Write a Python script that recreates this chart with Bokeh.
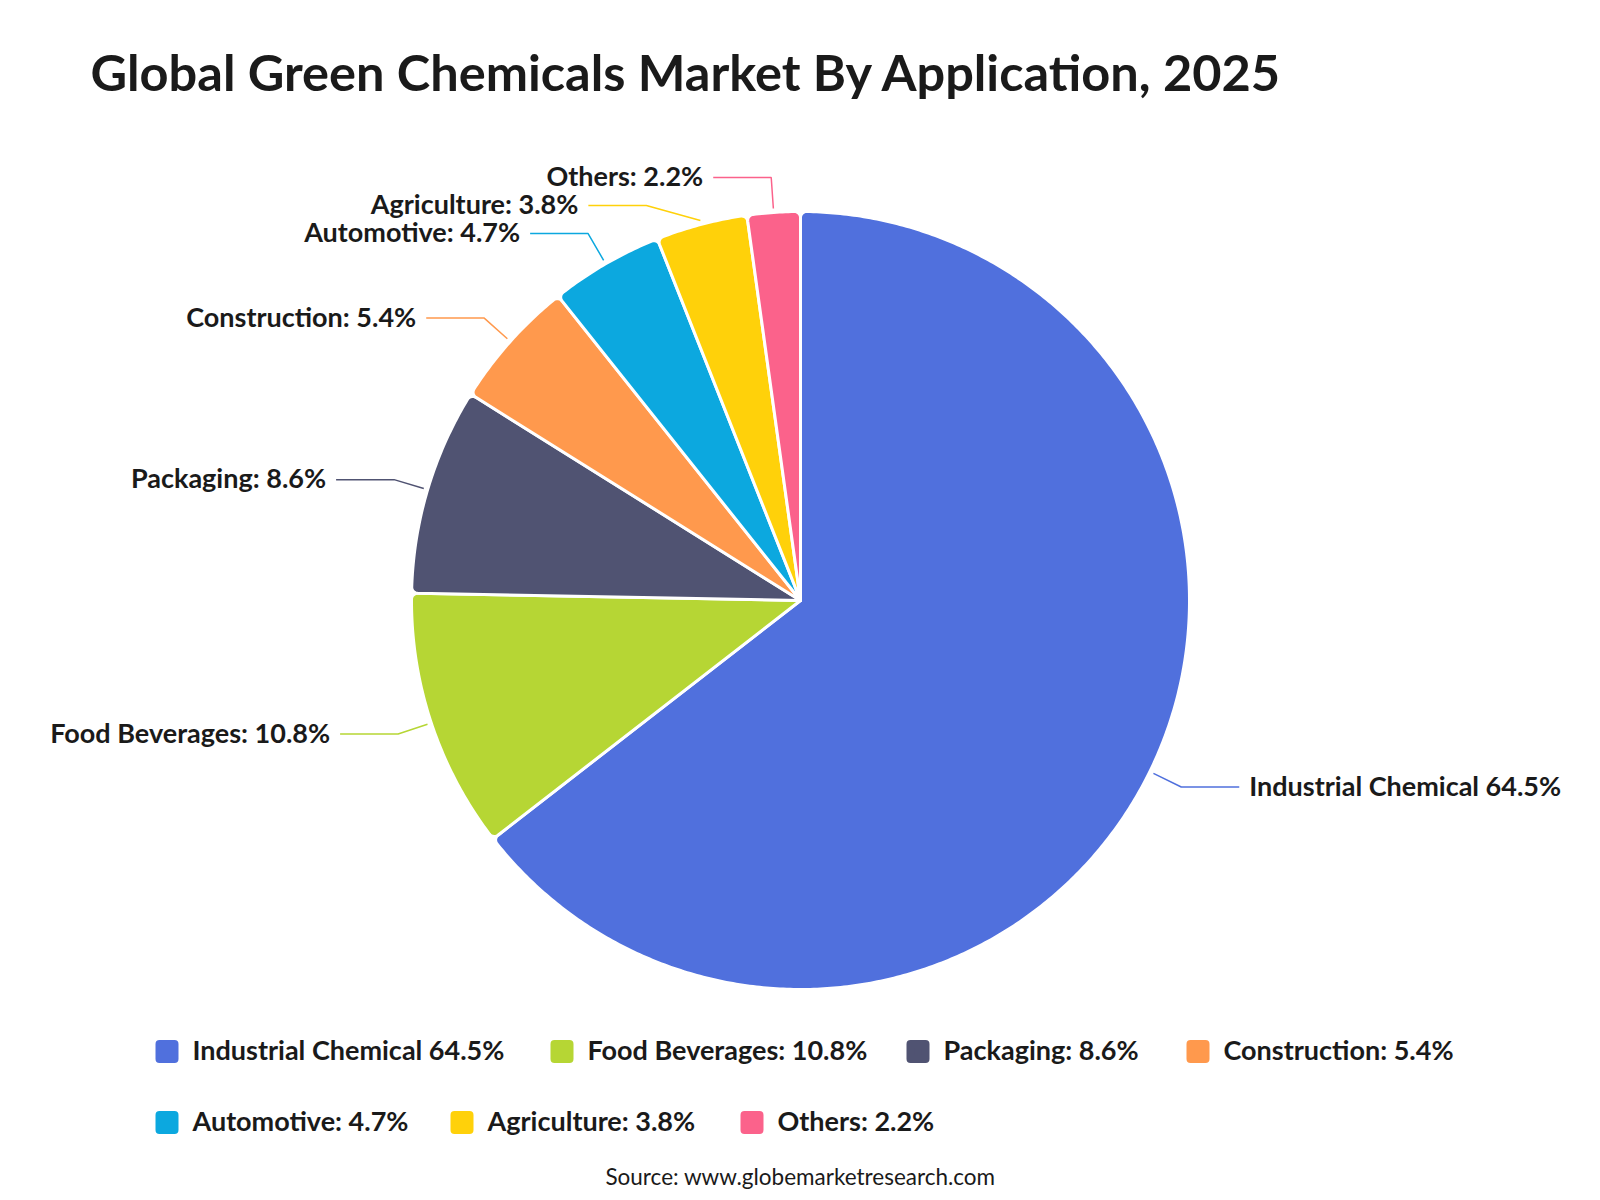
import math
import numpy as np
from bokeh.plotting import figure
from bokeh.models import Range1d, Label, ColumnDataSource
from bokeh.core.properties import value
from bokeh.embed import file_html
from bokeh.resources import INLINE

# ---- data -------------------------------------------------------------
categories = ["Industrial Chemical", "Food Beverages", "Packaging", "Construction",
              "Automotive", "Agriculture", "Others"]
shares = [64.5, 10.8, 8.6, 5.4, 4.7, 3.8, 2.2]
colors = ["#5070dd", "#b6d634", "#505372", "#ff994d", "#0ca8df", "#ffd10a", "#fb628b"]
title_text = "Global Green Chemicals Market By Application, 2025"
source_text = "Source: www.globemarketresearch.com"

labels = [f"{c} {s}%" if i == 0 else f"{c}: {s}%" for i, (c, s) in enumerate(zip(categories, shares))]

# ---- layout -----------------------------------------------------------
W, H = 1600, 1200
CX, CY = 800.0, 600.0          # pie centre (y measured from the top)
R = 389.0                      # pie radius
CORNER = 6.0                   # rounding of the outer corners
LEAD0, LEAD1, LEAD2, LGAP = 4.0, 35.0, 58.0, 10.0
MIN_DY = 28.0                  # min vertical distance between stacked labels
TEXT_DY = 2.0                  # optical centring of text on its line
FONT = "Lato"
INK = "#1a1a1a"
LABEL_SIZE = "27px"

# legend rows: left edge of each colour key (screen px) and row centre
legend_rows = [([155, 550, 906, 1186], 1051), ([155, 450, 740], 1122)]


def up(y):
    """screen y (from top) -> data y (from bottom)"""
    return H - y


def slice_outline(a0, a1, r, rr):
    beta = math.asin(rr / (r - rr))
    cyd = up(CY)
    xs, ys = [CX], [cyd]
    dt = (r - rr) * math.cos(beta)
    xs.append(CX + dt * math.cos(a0)); ys.append(cyd + dt * math.sin(a0))
    c1 = a0 + beta
    fx, fy = CX + (r - rr) * math.cos(c1), cyd + (r - rr) * math.sin(c1)
    for t in np.linspace(a0 - math.pi / 2, a0 + beta, 10):
        xs.append(fx + rr * math.cos(t)); ys.append(fy + rr * math.sin(t))
    n = max(8, int(math.degrees(a1 - a0) * 2))
    for t in np.linspace(a0 + beta, a1 - beta, n):
        xs.append(CX + r * math.cos(t)); ys.append(cyd + r * math.sin(t))
    c2 = a1 - beta
    fx, fy = CX + (r - rr) * math.cos(c2), cyd + (r - rr) * math.sin(c2)
    for t in np.linspace(a1 - beta, a1 + math.pi / 2, 10):
        xs.append(fx + rr * math.cos(t)); ys.append(fy + rr * math.sin(t))
    xs.append(CX + dt * math.cos(a1)); ys.append(cyd + dt * math.sin(a1))
    return xs, ys


total = float(sum(shares))
cum = np.concatenate([[0.0], np.cumsum(shares) / total])

p = figure(width=W, height=H, x_range=Range1d(0, W), y_range=Range1d(0, H),
           x_axis_type=None, y_axis_type=None, output_backend="svg",
           toolbar_location=None, min_border=0, outline_line_color=None,
           background_fill_color="white", border_fill_color="white")
p.grid.visible = False

# ---- pie slices (clockwise from 12 o'clock) ---------------------------
pxs, pys, mids = [], [], []
for i in range(len(shares)):
    a_hi = math.pi / 2 - 2 * math.pi * cum[i]
    a_lo = math.pi / 2 - 2 * math.pi * cum[i + 1]
    xs, ys = slice_outline(a_lo, a_hi, R, CORNER)
    pxs.append(xs); pys.append(ys)
    mids.append((a_lo + a_hi) / 2)

p.patches(xs="xs", ys="ys", fill_color="color", line_color="white", line_width=3,
          line_join="round",
          source=ColumnDataSource(dict(xs=pxs, ys=pys, color=colors)))

# ---- outside labels with leader lines ---------------------------------
items = []
for i, a in enumerate(mids):
    sx0 = CX + (R + LEAD0) * math.cos(a)
    sy0 = CY - (R + LEAD0) * math.sin(a)
    ex = CX + (R + LEAD1) * math.cos(a)
    ey = CY - (R + LEAD1) * math.sin(a)
    items.append(dict(i=i, side=1 if math.cos(a) >= 0 else -1, sx=sx0, sy=sy0, ex=ex, ey=ey))

# push overlapping labels downward on each side
for side in (1, -1):
    group = sorted([it for it in items if it["side"] == side], key=lambda d: d["ey"])
    prev = None
    for it in group:
        if prev is not None and it["ey"] < prev + MIN_DY:
            it["ey"] = prev + MIN_DY
            dy = CY - it["ey"]
            rr2 = (R + LEAD1) ** 2 - dy ** 2
            it["ex"] = CX + side * math.sqrt(max(rr2, 0.0))
        prev = it["ey"]

lxs, lys, lcol = [], [], []
txt = {1: dict(x=[], y=[], t=[]), -1: dict(x=[], y=[], t=[])}
for it in items:
    hx = it["ex"] + it["side"] * LEAD2
    lxs.append([it["sx"], it["ex"], hx])
    lys.append([up(it["sy"]), up(it["ey"]), up(it["ey"])])
    lcol.append(colors[it["i"]])
    txt[it["side"]]["x"].append(hx + it["side"] * LGAP)
    txt[it["side"]]["y"].append(up(it["ey"] - TEXT_DY))
    txt[it["side"]]["t"].append(labels[it["i"]])

p.multi_line(xs="xs", ys="ys", line_color="c", line_width=1.5,
             source=ColumnDataSource(dict(xs=lxs, ys=lys, c=lcol)))

for side, align in ((1, "left"), (-1, "right")):
    p.text(x="x", y="y", text="t", source=ColumnDataSource(txt[side]),
           text_font=value(FONT), text_font_style="bold", text_font_size=LABEL_SIZE,
           text_color=INK, text_align=align, text_baseline="middle")

# ---- legend -----------------------------------------------------------
kx, ky, kc, tx, ty, tt = [], [], [], [], [], []
k = 0
for lefts, yc in legend_rows:
    for left in lefts:
        kx.append(left + 11.5); ky.append(up(yc)); kc.append(colors[k])
        tx.append(left + 37); ty.append(up(yc - TEXT_DY)); tt.append(labels[k])
        k += 1

p.scatter(x=kx, y=ky, marker="square", size=15, fill_color=kc, line_color=kc,
          line_width=8, line_join="round")
p.text(x=tx, y=ty, text=tt, text_font=value(FONT), text_font_style="bold",
       text_font_size=LABEL_SIZE, text_color=INK, text_align="left", text_baseline="middle")

# ---- title and source -------------------------------------------------
p.add_layout(Label(x=90, y=up(71), text=title_text, text_font=FONT,
                   text_font_style="bold", text_font_size="50.5px", text_color=INK,
                   text_align="left", text_baseline="middle"))
p.add_layout(Label(x=CX, y=up(1176), text=source_text, text_font=FONT,
                   text_font_size="22.5px", text_color=INK,
                   text_align="center", text_baseline="middle"))

open("out.html", "w").write(file_html(p, INLINE))
